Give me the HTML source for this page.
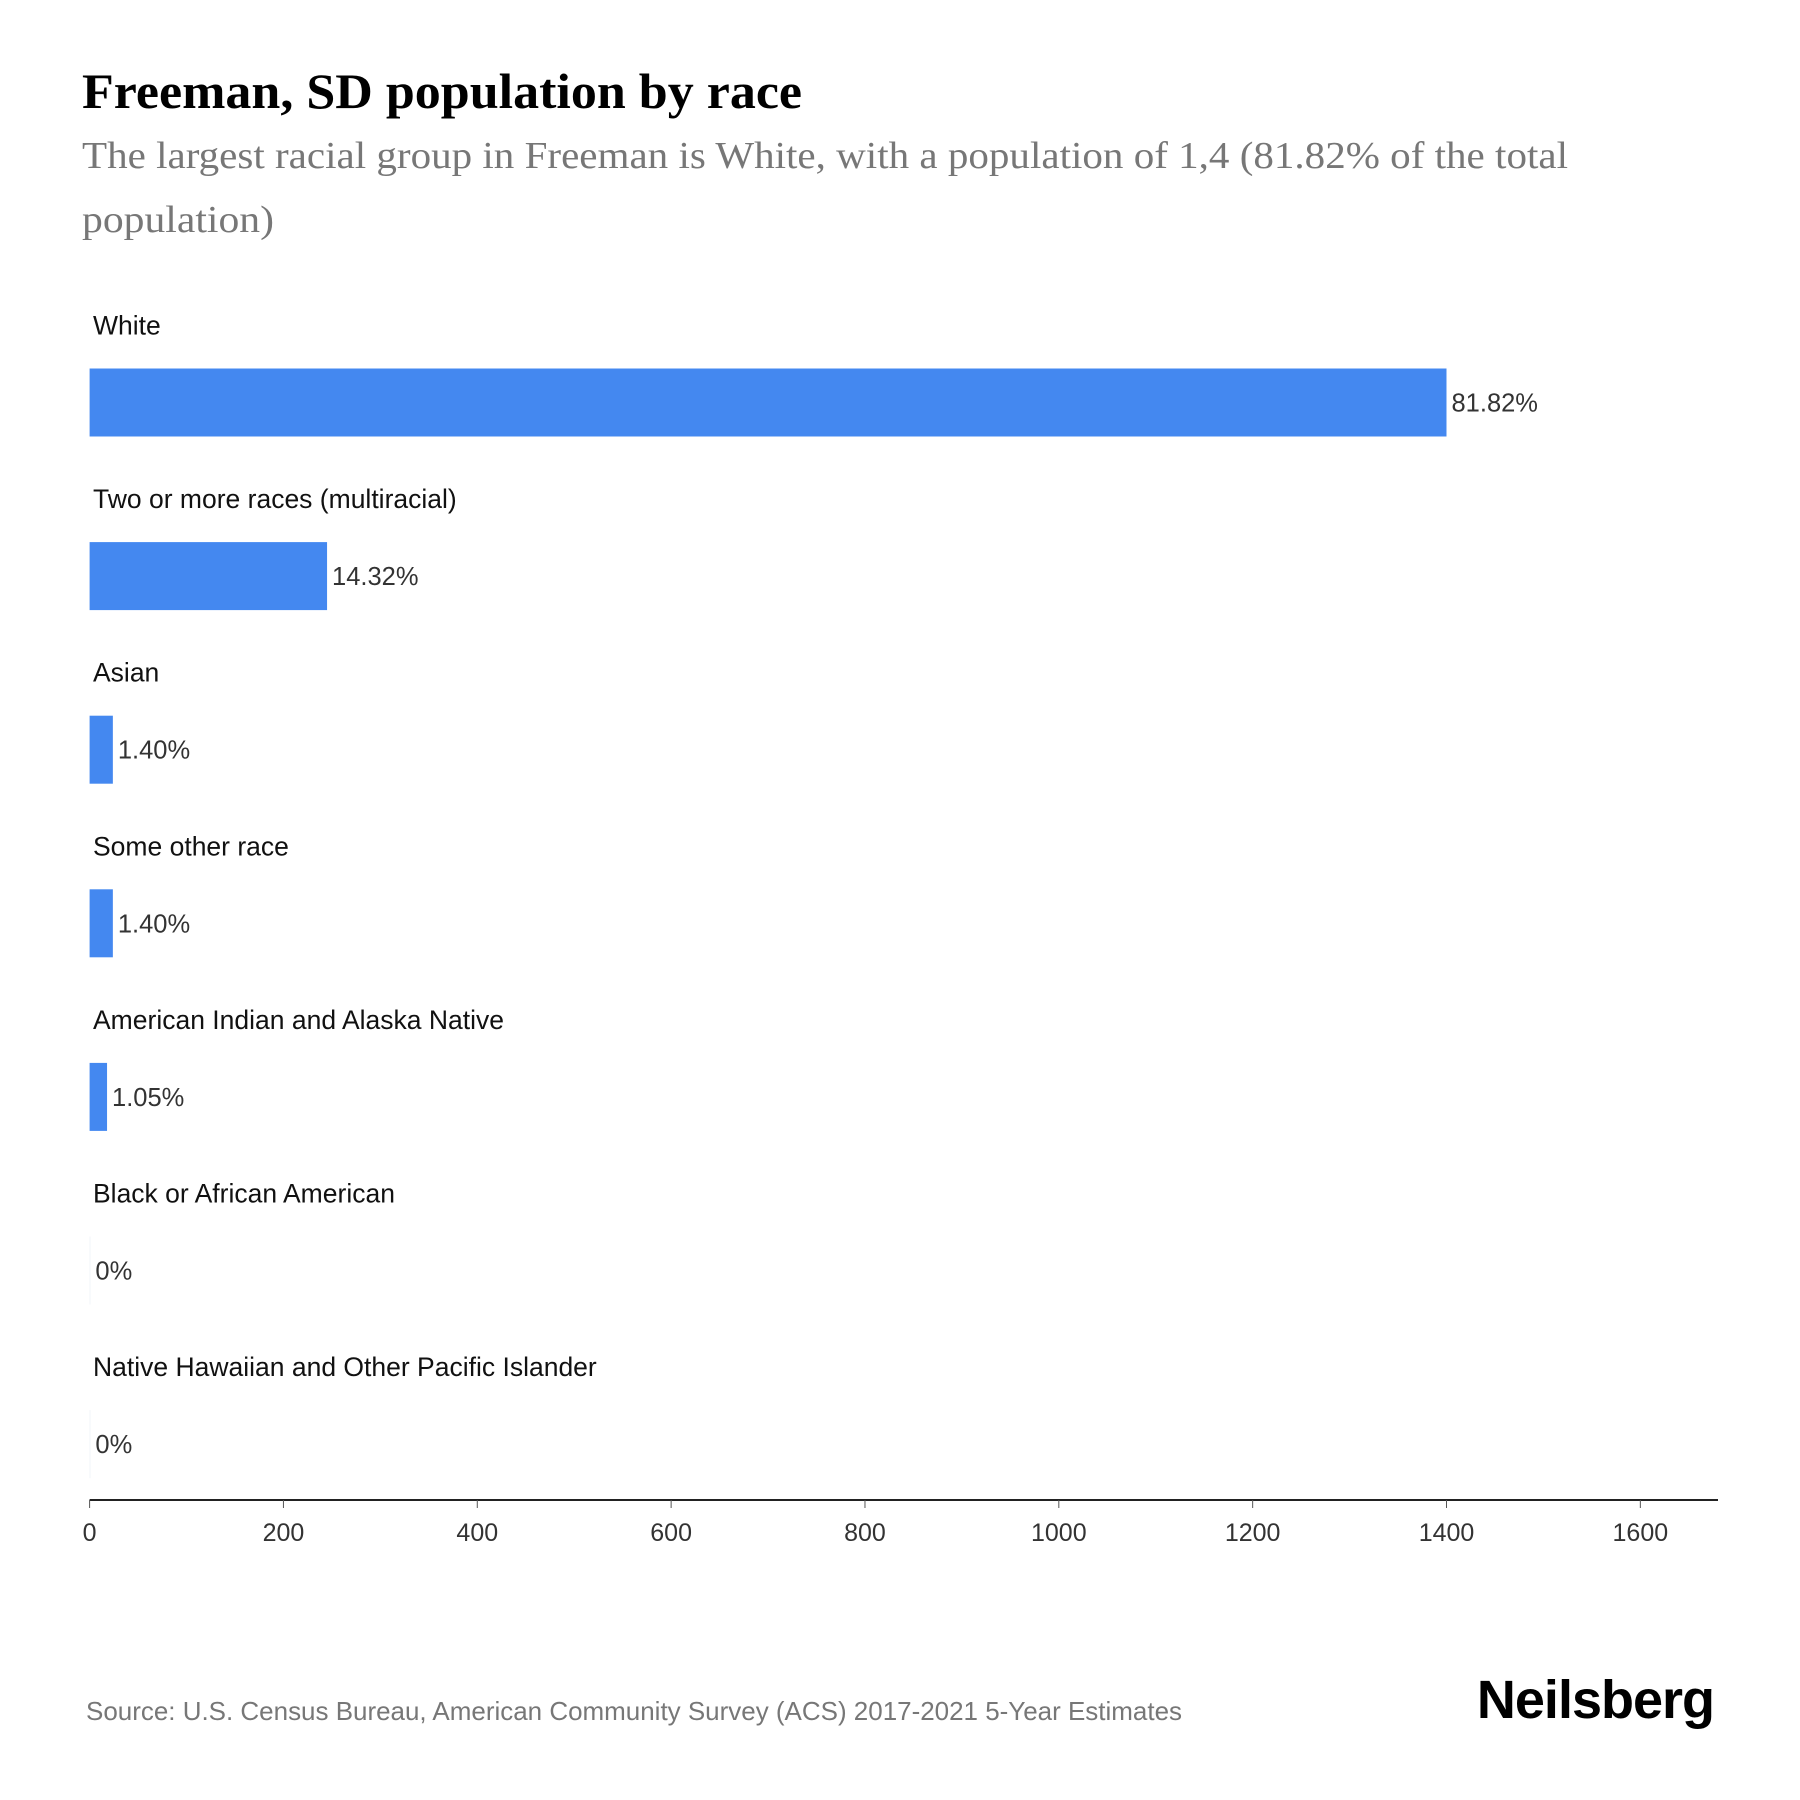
<!DOCTYPE html>
<html><head><meta charset="utf-8"><style>
html,body{margin:0;padding:0;background:#fff;}
svg{display:block;}
</style></head><body>
<svg id="chart" width="1800" height="1800" viewBox="0 0 1800 1800" xmlns="http://www.w3.org/2000/svg">
<text x="82" y="108" font-family="Liberation Serif, serif" font-weight="bold" font-size="50" fill="#000" textLength="720" lengthAdjust="spacingAndGlyphs">Freeman, SD population by race</text>
<text x="82" y="168" font-family="Liberation Serif, serif" font-size="38" fill="#777" textLength="1486" lengthAdjust="spacingAndGlyphs">The largest racial group in Freeman is White, with a population of 1,4 (81.82% of the total</text>
<text x="82" y="232" font-family="Liberation Serif, serif" font-size="38" fill="#777" textLength="192" lengthAdjust="spacingAndGlyphs">population)</text>
<g id="bars"></g>
<g id="axis"></g>
<text x="86" y="1720" font-family="Liberation Sans, sans-serif" font-size="26" fill="#777" textLength="1096" lengthAdjust="spacingAndGlyphs">Source: U.S. Census Bureau, American Community Survey (ACS) 2017-2021 5-Year Estimates</text>
<text x="1714" y="1718" text-anchor="end" font-family="Liberation Sans, sans-serif" font-weight="bold" font-size="54" fill="#000" letter-spacing="-1">Neilsberg</text>
</svg>
<script>
const categories = ["White","Two or more races (multiracial)","Asian","Some other race","American Indian and Alaska Native","Black or African American","Native Hawaiian and Other Pacific Islander"];
const values = [1400, 245, 24, 24, 18, 0, 0];
const pctLabels = ["81.82%","14.32%","1.40%","1.40%","1.05%","0%","0%"];
const ticks = [0,200,400,600,800,1000,1200,1400,1600];

const NS = "http://www.w3.org/2000/svg";
const x0 = 89.6, pxPer = (1446.5 - 89.6) / 1400;
function xScale(v){ return x0 + v * pxPer; }
function rowTop(i){ return 368.5 + i * 173.6; }
const barH = 68;

const bars = document.getElementById('bars');
categories.forEach((c, i) => {
  const y = rowTop(i);
  const lab = document.createElementNS(NS, 'text');
  
  
  lab.setAttribute('x', 93); lab.setAttribute('y', y - 34);
  lab.setAttribute('font-family', 'Liberation Sans, sans-serif');
  lab.setAttribute('font-size', '26.5'); lab.setAttribute('fill', '#111');
  lab.textContent = c; bars.appendChild(lab);

  const r = document.createElementNS(NS, 'rect');
  
  
  const w = Math.max(xScale(values[i]) - x0, 0.8);
  r.setAttribute('x', x0); r.setAttribute('y', y);
  r.setAttribute('width', w); r.setAttribute('height', barH);
  r.setAttribute('fill', values[i] > 0 ? '#4488f0' : '#eef2f8');
  bars.appendChild(r);

  const v = document.createElementNS(NS, 'text');
  
  
  v.setAttribute('x', x0 + w + 5); v.setAttribute('y', y + barH / 2 + 9);
  v.setAttribute('font-family', 'Liberation Sans, sans-serif');
  v.setAttribute('font-size', '25.5'); v.setAttribute('fill', '#333');
  v.textContent = pctLabels[i]; bars.appendChild(v);
});

const axis = document.getElementById('axis');
const line = document.createElementNS(NS, 'line');


line.setAttribute('x1', x0); line.setAttribute('x2', 1718);
line.setAttribute('y1', 1500); line.setAttribute('y2', 1500);
line.setAttribute('stroke', '#222'); line.setAttribute('stroke-width', '2');
axis.appendChild(line);
ticks.forEach(t => {
  const x = xScale(t);
  const tk = document.createElementNS(NS, 'line');
  
  
  tk.setAttribute('x1', x); tk.setAttribute('x2', x);
  tk.setAttribute('y1', 1500); tk.setAttribute('y2', 1508);
  tk.setAttribute('stroke', '#555'); tk.setAttribute('stroke-width', '1');
  axis.appendChild(tk);
  const tl = document.createElementNS(NS, 'text');
  
  
  tl.setAttribute('x', x); tl.setAttribute('y', 1541);
  tl.setAttribute('text-anchor', 'middle');
  tl.setAttribute('font-family', 'Liberation Sans, sans-serif');
  tl.setAttribute('font-size', '25'); tl.setAttribute('fill', '#333');
  tl.textContent = t; axis.appendChild(tl);
});
</script>
</body></html>
